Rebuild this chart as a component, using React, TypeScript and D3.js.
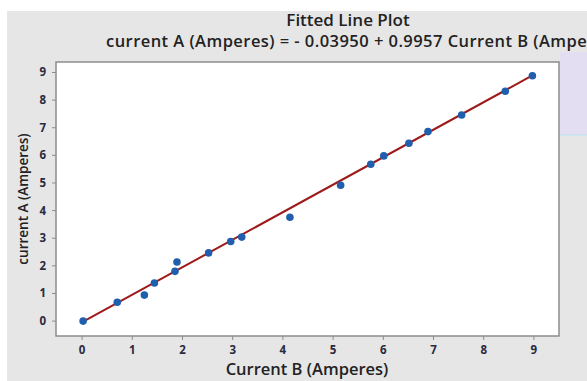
import React from 'react'
import * as d3 from 'd3'

// readings of the scatter, Current B vs current A
const currentB = [0.02, 0.7, 1.24, 1.44, 1.85, 1.89, 2.52, 2.96, 3.18, 4.14, 5.15, 5.75, 6.01, 6.51, 6.89, 7.56, 8.43, 8.97]
const currentA = [0.0, 0.68, 0.94, 1.38, 1.8, 2.14, 2.47, 2.88, 3.04, 3.76, 4.92, 5.68, 5.98, 6.44, 6.86, 7.46, 8.32, 8.88]
const xTicks = [0, 1, 2, 3, 4, 5, 6, 7, 8, 9]
const yTicks = [0, 1, 2, 3, 4, 5, 6, 7, 8, 9]
const intercept = -0.0395
const slope = 0.9957

const W = 587
const H = 381
const font = '"Open Sans", "Noto Sans", sans-serif'
const ink = '#2a2a40'

export default function App() {
  const left = 56, right = 559, top = 62, bottom = 336
  const x = d3.scaleLinear().domain([-0.52, 9.5]).range([left, right])
  const y = d3.scaleLinear().domain([-0.54, 9.38]).range([bottom, top])

  const pts = currentB.map((b, i) => ({ b, a: currentA[i] }))
  const xMin = d3.min(currentB) as number
  const xMax = d3.max(currentB) as number
  const line = d3.line<number>()
    .x(d => x(d))
    .y(d => y(intercept + slope * d))

  return (
    <svg width={W} height={H} style={{ position: 'absolute', left: 0, top: 0 }}>
      <rect x={7} y={11} width={W - 7} height={H - 11} fill="#e6e6e6" />
      <rect x={560} y={52} width={27} height={83} fill="#e3def2" />
      <line x1={560} x2={587} y1={135} y2={135} stroke="#b9e3ee" strokeWidth={1} />
      <text x={348} y={26} textAnchor="middle" fontFamily={font} fontSize={17} fontWeight={600} fill="#222">Fitted Line Plot</text>
      <text x={106} y={47} fontFamily={font} fontSize={16.5} letterSpacing={0.45} fontWeight={600} fill="#222" style={{ whiteSpace: 'pre' }}>current A (Amperes) = - 0.03950 + 0.9957 Current B (Amperes)</text>
      <rect x={left} y={top} width={right - left} height={bottom - top} fill="#fff" stroke="#8c8c8c" strokeWidth={1.5} />

      {xTicks.map(t => (
        <g key={'x' + t}>
          <line x1={x(t)} x2={x(t)} y1={bottom} y2={bottom + 4} stroke="#8c8c8c" />
          <text x={x(t)} y={bottom + 18} textAnchor="middle" fontFamily={font} fontSize={11.5} fontWeight={700} fill={ink}>{t}</text>
        </g>
      ))}
      {yTicks.map(t => (
        <g key={'y' + t}>
          <line x1={left - 4} x2={left} y1={y(t)} y2={y(t)} stroke="#8c8c8c" />
          <text x={left - 10} y={y(t) + 4} textAnchor="end" fontFamily={font} fontSize={11.5} fontWeight={700} fill={ink}>{t}</text>
        </g>
      ))}

      <text x={307} y={375} textAnchor="middle" fontFamily={font} fontSize={16.5} fontWeight={600} fill="#222">Current B (Amperes)</text>
      <text transform={`translate(28,199) rotate(-90)`} textAnchor="middle" fontFamily={font} fontSize={13.5} fontWeight={600} fill="#222">current A (Amperes)</text>

      <path d={line([xMin, xMax]) ?? ''} stroke="#9e1b1b" strokeWidth={2} fill="none" />
      {pts.map((p, i) => (
        <circle key={i} cx={x(p.b)} cy={y(p.a)} r={3.8} fill="#1f5fae" />
      ))}
    </svg>
  )
}
